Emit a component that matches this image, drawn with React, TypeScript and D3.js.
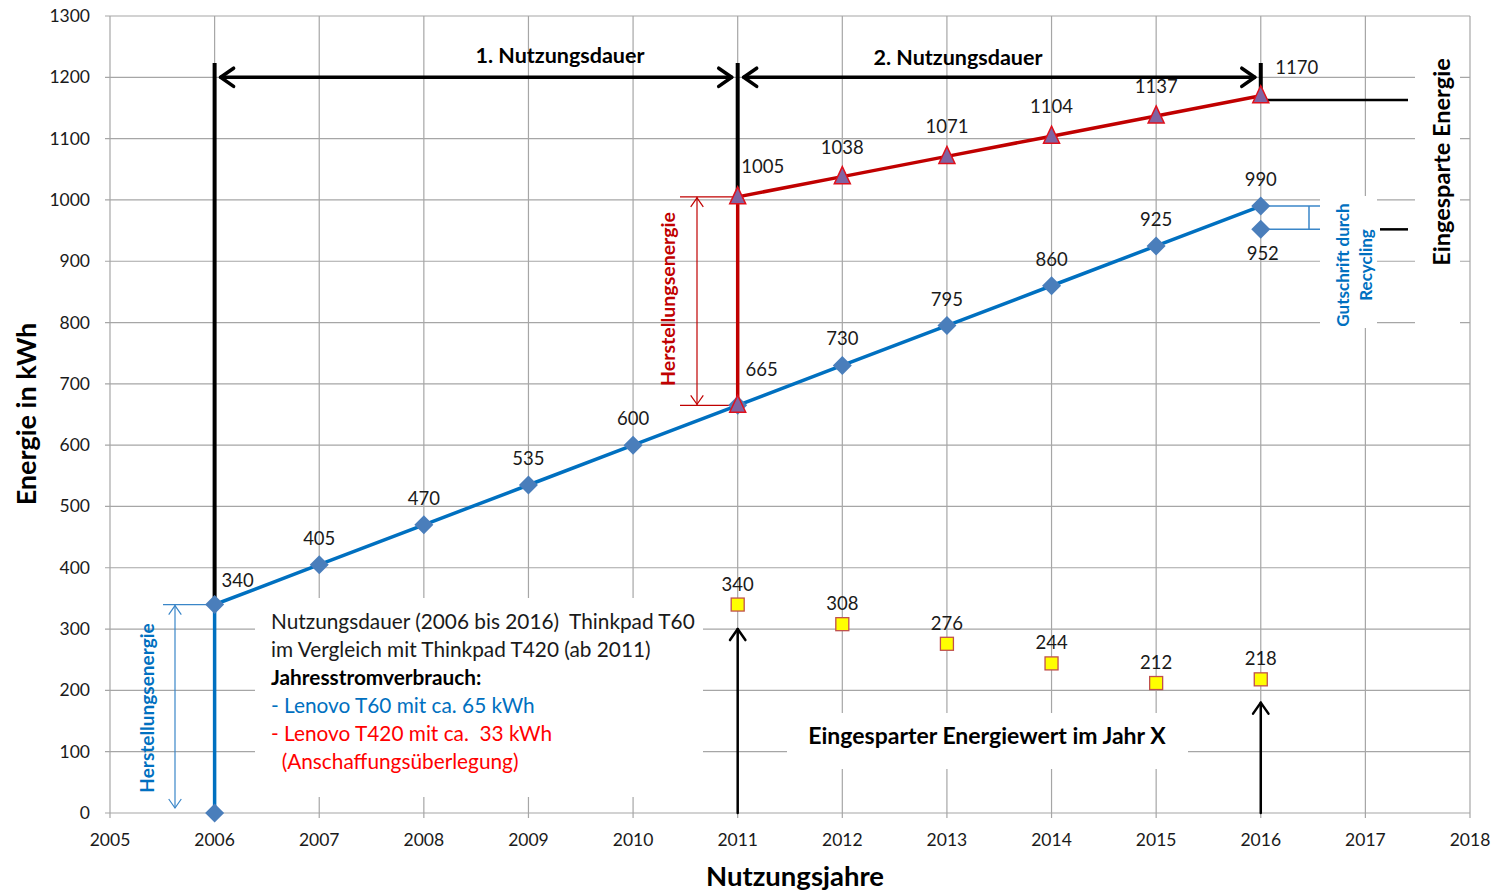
import React from 'react';
import * as d3 from 'd3';

const xTicks = [2005, 2006, 2007, 2008, 2009, 2010, 2011, 2012, 2013, 2014, 2015, 2016, 2017, 2018];
const yTicks = [0, 100, 200, 300, 400, 500, 600, 700, 800, 900, 1000, 1100, 1200, 1300];

const t60Years = [2006, 2007, 2008, 2009, 2010, 2011, 2012, 2013, 2014, 2015, 2016];
const t60Values = [340, 405, 470, 535, 600, 665, 730, 795, 860, 925, 990];
const t60Start = 0;
const recyclingValue = 952;

const t420Years = [2011, 2012, 2013, 2014, 2015, 2016];
const t420Values = [1005, 1038, 1071, 1104, 1137, 1170];
const t420Start = 665;

const savedYears = [2011, 2012, 2013, 2014, 2015, 2016];
const savedValues = [340, 308, 276, 244, 212, 218];

const legendLines = [
  { text: 'Nutzungsdauer (2006 bis 2016)  Thinkpad T60', color: '#1a1a1a', bold: false },
  { text: 'im Vergleich mit Thinkpad T420 (ab 2011)', color: '#1a1a1a', bold: false },
  { text: 'Jahresstromverbrauch:', color: '#000', bold: true },
  { text: '- Lenovo T60 mit ca. 65 kWh', color: '#0070C0', bold: false },
  { text: '- Lenovo T420 mit ca.  33 kWh', color: '#FF0000', bold: false },
  { text: '  (Anschaffungsüberlegung)', color: '#FF0000', bold: false },
];

const FONT = 'Lato, "Open Sans", sans-serif';

export default function App() {
  const x = d3.scaleLinear().domain([2005, 2018]).range([110, 1470]);
  const y = d3.scaleLinear().domain([0, 1300]).range([813, 16]);

  const line = d3.line<[number, number]>().x(d => x(d[0])).y(d => y(d[1]));
  const bluePts: [number, number][] = [[2006, t60Start], ...t60Years.map((yr, i) => [yr, t60Values[i]] as [number, number])];
  const redPts: [number, number][] = [[2011, t420Start], ...t420Years.map((yr, i) => [yr, t420Values[i]] as [number, number])];

  const diamond = (cx: number, cy: number, r = 9.5) => `M${cx},${cy - r}L${cx + r},${cy}L${cx},${cy + r}L${cx - r},${cy}Z`;
  const tri = (cx: number, cy: number, r = 8) => `M${cx},${cy - r - 2}L${cx + r},${cy + r - 1}L${cx - r},${cy + r - 1}Z`;

  const chevron = (tx: number, ty: number, dir: 'left' | 'right' | 'up' | 'down', s = 12) => {
    if (dir === 'left') return `M${tx + s},${ty - s * 0.7}L${tx},${ty}L${tx + s},${ty + s * 0.7}`;
    if (dir === 'right') return `M${tx - s},${ty - s * 0.7}L${tx},${ty}L${tx - s},${ty + s * 0.7}`;
    if (dir === 'up') return `M${tx - s * 0.7},${ty + s}L${tx},${ty}L${tx + s * 0.7},${ty + s}`;
    return `M${tx - s * 0.7},${ty - s}L${tx},${ty}L${tx + s * 0.7},${ty - s}`;
  };

  const x06 = x(2006), x11 = x(2011), x16 = x(2016);
  const yArrow = y(1200);

  return (
    <svg width={1503} height={892} style={{ position: 'absolute', left: 0, top: 0, background: '#fff' }} fontFamily={FONT}>
      {/* grid */}
      <g stroke="#A6A6A6" strokeWidth={1.2}>
        {xTicks.map(t => <line key={'gx' + t} x1={x(t)} x2={x(t)} y1={y(1300)} y2={y(0) + 5} />)}
        {yTicks.map(t => <line key={'gy' + t} x1={x(2005) - 5} x2={x(2018)} y1={y(t)} y2={y(t)} />)}
      </g>
      {/* white label backgrounds */}
      <g fill="#fff">
        <rect x={255} y={598} width={448} height={199} />
        <rect x={787} y={713} width={401} height={56} />
        <rect x={1320} y={196} width={57} height={132} />
        <rect x={1415} y={30} width={45} height={300} />
      </g>
      {/* axis tick labels */}
      <g fontSize={17.5} fill="#1a1a1a">
        {yTicks.map(t => <text key={'ty' + t} x={90} y={y(t) + 6} textAnchor="end">{t}</text>)}
        {xTicks.map(t => <text key={'tx' + t} x={x(t)} y={846} textAnchor="middle">{t}</text>)}
      </g>
      <text x={795} y={886} textAnchor="middle" fontSize={27.5} fontWeight="bold">Nutzungsjahre</text>
      <text transform={`translate(36,414) rotate(-90)`} textAnchor="middle" fontSize={27} fontWeight="bold">Energie in kWh</text>

      {/* black usage period lines & arrows */}
      <g stroke="#000" strokeWidth={4} fill="none">
        <line x1={x06} x2={x06} y1={63} y2={y(340)} />
        <line x1={x11} x2={x11} y1={63} y2={y(1005)} />
        <line x1={x16} x2={x16} y1={63} y2={y(1170)} />
      </g>
      <g stroke="#000" strokeWidth={3.5} fill="none" strokeLinecap="round" strokeLinejoin="round">
        <line x1={x06 + 6} x2={x11 - 6} y1={yArrow} y2={yArrow} />
        <path d={chevron(x06 + 6, yArrow, 'left', 13)} />
        <path d={chevron(x11 - 6, yArrow, 'right', 13)} />
        <line x1={x11 + 6} x2={x16 - 6} y1={yArrow} y2={yArrow} />
        <path d={chevron(x11 + 6, yArrow, 'left', 13)} />
        <path d={chevron(x16 - 6, yArrow, 'right', 13)} />
      </g>
      <text x={560} y={63} textAnchor="middle" fontSize={21.5} fontWeight="bold">1. Nutzungsdauer</text>
      <text x={958} y={65} textAnchor="middle" fontSize={21.5} fontWeight="bold">2. Nutzungsdauer</text>

      {/* eingesparte energie bracket */}
      <g stroke="#000" strokeWidth={2.5}>
        <line x1={x16} x2={1408} y1={y(1163)} y2={y(1163)} />
        <line x1={1380} x2={1408} y1={y(952)} y2={y(952)} />
      </g>
      <text transform={`translate(1450,162) rotate(-90)`} textAnchor="middle" fontSize={23.5} fontWeight="bold">Eingesparte Energie</text>

      {/* recycling bracket */}
      <g stroke="#3A86C8" strokeWidth={1.5}>
        <line x1={x16} x2={1320} y1={y(990)} y2={y(990)} />
        <line x1={x16} x2={1320} y1={y(952)} y2={y(952)} />
        <line x1={1309} x2={1309} y1={y(990)} y2={y(952)} />
      </g>
      <g fill="#0070C0" fontSize={17} fontWeight="bold" textAnchor="middle">
        <text transform={`translate(1349,265) rotate(-90)`}>Gutschrift durch</text>
        <text transform={`translate(1372,265) rotate(-90)`}>Recycling</text>
      </g>

      {/* red Herstellungsenergie */}
      <g stroke="#C00000" strokeWidth={1.2} fill="none">
        <line x1={680} x2={x11} y1={y(1005)} y2={y(1005)} />
        <line x1={680} x2={x11} y1={y(665)} y2={y(665)} />
        <line x1={697} x2={697} y1={y(1005)} y2={y(665)} />
        <path d={chevron(697, y(1005) + 1, 'up', 9)} />
        <path d={chevron(697, y(665) - 1, 'down', 9)} />
      </g>
      <text transform={`translate(675,299) rotate(-90)`} textAnchor="middle" fontSize={19.5} fontWeight="bold" fill="#C00000">Herstellungsenergie</text>

      {/* blue Herstellungsenergie */}
      <g stroke="#3A86C8" strokeWidth={1.2} fill="none">
        <line x1={163} x2={x06} y1={y(340)} y2={y(340)} />
        <line x1={175} x2={175} y1={y(340)} y2={y(0) - 5} />
        <path d={chevron(175, y(340) + 1, 'up', 9)} />
        <path d={chevron(175, y(0) - 5, 'down', 9)} />
      </g>
      <text transform={`translate(154,708) rotate(-90)`} textAnchor="middle" fontSize={19} fontWeight="bold" fill="#0070C0">Herstellungsenergie</text>

      {/* black up arrows to saved values */}
      <g stroke="#000" strokeWidth={2.5} fill="none" strokeLinecap="round" strokeLinejoin="round">
        <line x1={x11} x2={x11} y1={y(0)} y2={y(300)} />
        <path d={chevron(x11, y(300), 'up', 11)} />
        <line x1={x16} x2={x16} y1={y(0)} y2={y(180)} />
        <path d={chevron(x16, y(180), 'up', 11)} />
      </g>
      <text x={987} y={744} textAnchor="middle" fontSize={23} fontWeight="bold">Eingesparter Energiewert im Jahr X</text>

      {/* series lines */}
      <path d={line(bluePts) || ''} fill="none" stroke="#0070C0" strokeWidth={3.5} />
      <path d={line(redPts) || ''} fill="none" stroke="#C00000" strokeWidth={3.5} />

      {/* markers */}
      <g fill="#4A7EBB">
        {bluePts.map((p, i) => <path key={'bd' + i} d={diamond(x(p[0]), y(p[1]))} />)}
        <path d={diamond(x16, y(recyclingValue))} />
      </g>
      <g fill="#8064A2" stroke="#E0101C" strokeWidth={1.5}>
        {redPts.map((p, i) => <path key={'rt' + i} d={tri(x(p[0]), y(p[1]))} />)}
      </g>
      <g fill="#FFFF00" stroke="#C0504D" strokeWidth={1.3}>
        {savedYears.map((yr, i) => <rect key={'ys' + i} x={x(yr) - 6.5} y={y(savedValues[i]) - 6.5} width={13} height={13} />)}
      </g>

      {/* data labels */}
      <g fontSize={18.5} fill="#1a1a1a" textAnchor="middle">
        {t60Years.map((yr, i) => {
          const dx = yr === 2006 ? 23 : yr === 2011 ? 24 : 0;
          const dy = yr === 2006 ? 18 : yr === 2011 ? 29 : 20;
          return <text key={'bl' + i} x={x(yr) + dx} y={y(t60Values[i]) - dy}>{t60Values[i]}</text>;
        })}
        <text x={x16 + 2} y={y(recyclingValue) + 31}>{recyclingValue}</text>
        {t420Years.map((yr, i) => {
          const dx = yr === 2011 ? 25 : yr === 2016 ? 36 : 0;
          const dy = yr === 2011 ? 24 : yr === 2016 ? 22 : 23;
          return <text key={'rl' + i} x={x(yr) + dx} y={y(t420Values[i]) - dy}>{t420Values[i]}</text>;
        })}
        {savedYears.map((yr, i) => <text key={'sl' + i} x={x(yr)} y={y(savedValues[i]) - 14}>{savedValues[i]}</text>)}
      </g>

      {/* legend text */}
      <g fontSize={20.8}>
        {legendLines.map((l, i) => (
          <text key={'lg' + i} x={271} y={629 + i * 28} fill={l.color} fontWeight={l.bold ? 'bold' : 'normal'} style={{ whiteSpace: 'pre' }}>{l.text}</text>
        ))}
      </g>
    </svg>
  );
}
